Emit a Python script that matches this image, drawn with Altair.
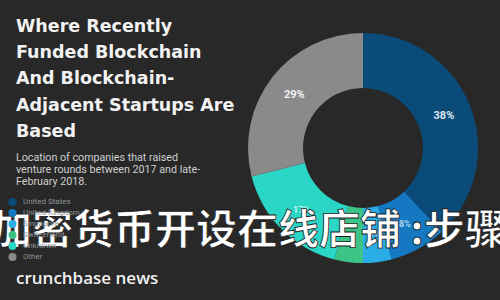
import altair as alt
import pandas as pd

# ---- data ----
names = ["United States", "United Kingdom", "Singapore", "Switzerland", "Unknown", "Other"]
shares = [38, 8, 4, 4, 17, 29]
pct_labels = ["38%", "8%", "4%", "", "17%", "29%"]
label_sizes = [11, 9, 7, 7, 9, 11]
label_colors = ["#dbe8f0", "#a9d6f2", "#c8ecf8", "#ffffff", "#c4f4ee", "#f2f2f2"]
seg_colors = ["#0a4b7a", "#1479c2", "#2aace6", "#3cc486", "#2ad6c6", "#8a8a8a"]

title_lines = ["Where Recently", "Funded Blockchain", "And Blockchain-", "Adjacent Startups Are", "Based"]
subtitle_lines = ["Location of companies that raised", "venture rounds between 2017 and late-", "February 2018."]
brand = "crunchbase news"
overlay_text = "加密货币开设在线店铺 :步骤"

df = pd.DataFrame({
    "name": names,
    "share": shares,
    "label": pct_labels,
    "lsize": label_sizes,
    "lcolor": label_colors,
    "idx": list(range(len(names))),
})

CX, CY = 363, 148

color_scale = alt.Scale(domain=names, range=seg_colors)

donut = alt.Chart(df).mark_arc(outerRadius=115, innerRadius=60, stroke=None).encode(
    theta=alt.Theta("share:Q", stack=True),
    color=alt.Color(
        "name:N",
        scale=color_scale,
        sort=names,
        legend=alt.Legend(
            title=None,
            orient="none",
            legendX=8.5,
            legendY=198,
            padding=0,
            symbolType="circle",
            symbolSize=64,
            symbolStrokeWidth=0,
            labelFontSize=8,
            labelFont="Roboto",
            labelColor="#8c959b",
            labelOffset=6.5,
            rowPadding=3,
        ),
    ),
    order=alt.Order("idx:Q"),
    x=alt.value(CX),
    y=alt.value(CY),
)

pct = alt.Chart(df).mark_text(font="Roboto", fontWeight="bold", radius=87).encode(
    theta=alt.Theta("share:Q", stack=True),
    order=alt.Order("idx:Q"),
    text="label:N",
    size=alt.Size("lsize:Q", scale=None),
    color=alt.Color("lcolor:N", scale=None),
    x=alt.value(CX),
    y=alt.value(CY),
)

title = alt.Chart(pd.DataFrame({"t": ["\n".join(title_lines)]})).mark_text(
    font="DejaVu Sans", fontWeight="bold", fontSize=17.5, color="#f2f2f2",
    align="left", baseline="alphabetic", lineBreak="\n", lineHeight=26.4,
).encode(text="t:N", x=alt.value(16), y=alt.value(31.5))

subtitle = alt.Chart(pd.DataFrame({"t": ["\n".join(subtitle_lines)]})).mark_text(
    font="Roboto", fontSize=10.7, color="#cfcfcf",
    align="left", baseline="alphabetic", lineBreak="\n", lineHeight=12,
).encode(text="t:N", x=alt.value(16), y=alt.value(161))

logo = alt.Chart(pd.DataFrame({"t": [brand]})).mark_text(
    font="Open Sans", fontWeight=600, fontSize=17, color="#f0f0f0",
    align="left", baseline="alphabetic",
).encode(text="t:N", x=alt.value(16), y=alt.value(284))

overlay = alt.Chart(pd.DataFrame({"t": [overlay_text]})).mark_text(
    font="Noto Sans CJK SC", fontWeight="bold", fontSize=41, color="#ffffff",
    align="left", baseline="middle", stroke="#1a1a1a", strokeWidth=0.8,
).encode(text="t:N", x=alt.value(-9), y=alt.value(232))

chart = alt.layer(donut, pct, title, subtitle, logo, overlay).properties(
    width=500, height=300, padding=0, autosize="none", background="#282828",
).configure_view(strokeWidth=0)

chart.save("out.html", embed_options={"renderer": "svg", "actions": False})
